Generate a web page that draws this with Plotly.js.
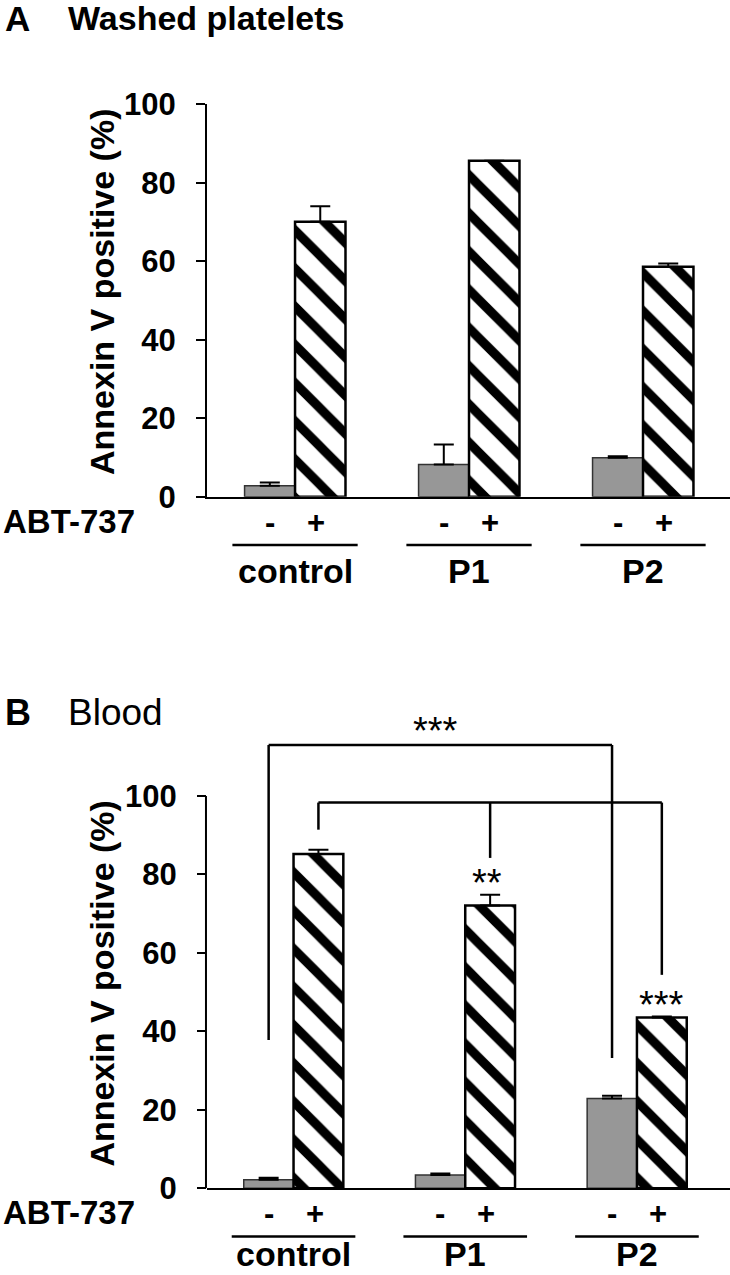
<!DOCTYPE html>
<html>
<head>
<meta charset="utf-8">
<script src="https://cdn.plot.ly/plotly-3.0.1.min.js"></script>
<style>
  html, body { margin: 0; padding: 0; background: #fff; }
  #chart { width: 730px; height: 1275px; }
</style>
</head>
<body>
<div id="chart"></div>
<script>
const chart = document.getElementById('chart');

/**
 * Data
 */
const groups = ['control', 'P1', 'P2'];
const signs = ['-', '+'];

// A: washed platelets
const washedMinus = [2.8, 8.2, 9.9];
const washedMinusErr = [0.8, 5.1, 0.4];
const washedPlus = [70.1, 85.6, 58.6];
const washedPlusErr = [3.9, 0, 0.8];

// B: blood
const bloodMinus = [2.2, 3.4, 22.9];
const bloodMinusErr = [0.5, 0.4, 0.7];
const bloodPlus = [85.2, 72.1, 43.5];
const bloodPlusErr = [1.1, 2.7, 0.3];

const yTicks = [0, 20, 40, 60, 80, 100];

/**
 * Styling
 */
const FONT = 'Liberation Sans, Arial, sans-serif';
const bargap = 0.42;
const half = (1 - bargap) / 4;   // offset of each bar from the group centre

const greyBar = (y, err, xa, ya) => ({
  type: 'bar', x: groups, y: y, xaxis: xa, yaxis: ya,
  marker: { color: '#979797', line: { color: '#333', width: 1.5 } },
  error_y: { type: 'data', array: err, arrayminus: err.map(() => 0), symmetric: false,
             color: '#000', thickness: 2, width: 10 },
  showlegend: false, hoverinfo: 'skip'
});

const hatchBar = (y, err, xa, ya) => ({
  type: 'bar', x: groups, y: y, xaxis: xa, yaxis: ya,
  marker: {
    color: '#fff',
    line: { color: '#000', width: 2.5 },
    pattern: { shape: '\\', fgcolor: '#000', bgcolor: '#fff', size: 27, solidity: 0.34 }
  },
  error_y: { type: 'data', array: err, arrayminus: err.map(() => 0), symmetric: false,
             color: '#000', thickness: 2, width: 10 },
  showlegend: false, hoverinfo: 'skip'
});

const data = [
  greyBar(washedMinus, washedMinusErr, 'x', 'y'),
  hatchBar(washedPlus, washedPlusErr, 'x', 'y'),
  greyBar(bloodMinus, bloodMinusErr, 'x2', 'y2'),
  hatchBar(bloodPlus, bloodPlusErr, 'x2', 'y2')
];

const xAxisBase = {
  domain: [207 / 730, 1],
  showline: true, linewidth: 2, linecolor: '#000',
  showticklabels: false, ticks: '', showgrid: false, zeroline: false, fixedrange: true
};

const yAxisBase = {
  tickvals: yTicks, ticks: 'outside', ticklen: 9, tickwidth: 2, tickcolor: '#000',
  tickfont: { family: FONT, size: 31, weight: 'bold', color: '#000' },
  ticklabelstandoff: 14,
  showgrid: false, zeroline: false, fixedrange: true
};

/**
 * Annotations and shapes
 */
const annotations = [];
const shapes = [];

const txt = (text, x, y, size, extra) => Object.assign({
  text: text, x: x, y: y, xref: 'paper', yref: 'paper', showarrow: false,
  xanchor: 'center', yanchor: 'middle',
  font: { family: FONT, size: size, color: '#000', weight: 'bold' }
}, extra || {});

// panel labels
annotations.push(txt('A', 3 / 730, 1 - 18 / 1275, 35, { xanchor: 'left' }));
annotations.push(txt('Washed platelets', 66 / 730, 1 - 18 / 1275, 34, { xanchor: 'left' }));
annotations.push(txt('B', 3 / 730, 1 - 712 / 1275, 36, { xanchor: 'left' }));
annotations.push(txt('Blood', 66 / 730, 1 - 712 / 1275, 37,
  { xanchor: 'left', font: { family: FONT, size: 37, color: '#000', weight: 'normal' } }));

// per panel: y title, ABT-737 row, signs, group underlines and names
const panels = [
  { xa: 'x', top: 0, nameY: 571, nameAnchor: 'middle' },
  { xa: 'x2', top: 691.6, nameY: 583, nameAnchor: 'bottom' }   // kept inside the page
];
panels.forEach(p => {
  const py = px => 1 - (px + p.top) / 1275;
  annotations.push(txt('Annexin V positive (%)', 102 / 730, py(292), 34, { textangle: -90 }));
  annotations.push(txt('ABT-737', 1 / 730, py(521), 33, { xanchor: 'left' }));
  groups.forEach((g, i) => {
    signs.forEach((s, j) => {
      annotations.push(txt(s, i, py(522), 31, { xref: p.xa, xshift: j === 0 ? -25 : 21 }));
    });
    annotations.push(txt(g, i, py(p.nameY), 34, { xref: p.xa, yanchor: p.nameAnchor }));
    shapes.push({
      type: 'line', xref: p.xa, yref: 'paper', x0: i - 0.36, x1: i + 0.36,
      y0: py(545), y1: py(545), line: { color: '#000', width: 2.5 }
    });
  });
});

// panel B y axis line only reaches 100
shapes.push({
  type: 'line', xref: 'paper', yref: 'y2', x0: 207 / 730 - 0.0014, x1: 207 / 730 - 0.0014,
  y0: 0, y1: 100, line: { color: '#000', width: 2 }
});

// significance brackets in panel B
const bline = (x0, y0, x1, y1) => shapes.push({
  type: 'line', xref: 'x2', yref: 'y2', x0: x0, y0: y0, x1: x1, y1: y1,
  line: { color: '#000', width: 2.5 }
});
// control(-) vs P2(-)
bline(0 - half, 37.8, 0 - half, 113);
bline(0 - half, 113, 2 - half, 113);
bline(2 - half, 113, 2 - half, 33.2);
// control(+) vs P1(+) and P2(+)
bline(0 + half, 91.4, 0 + half, 98.3);
bline(0 + half, 98.3, 2 + half, 98.3);
bline(1 + half, 98.3, 1 + half, 84.2);
bline(2 + half, 98.3, 2 + half, 54.4);

const star = (text, x, y) => annotations.push({
  text: text, x: x, y: y, xref: 'x2', yref: 'y2', showarrow: false,
  xanchor: 'center', yanchor: 'middle',
  font: { family: FONT, size: 38, color: '#000' }
});
star('***', 1 - half - 0.03, 116.6);
star('**', 1 + half - 0.02, 77.8);
star('***', 2 + half, 46.8);

/**
 * Layout
 */
const layout = {
  width: 730,
  height: 1275,
  margin: { l: 0, r: 0, t: 0, b: 0 },
  paper_bgcolor: '#fff',
  plot_bgcolor: 'rgba(0,0,0,0)',
  barmode: 'group',
  bargap: bargap,
  bargroupgap: 0,
  xaxis: Object.assign({}, xAxisBase, { anchor: 'y', range: [-0.506, 2.5] }),
  yaxis: Object.assign({}, yAxisBase, {
    anchor: 'x', domain: [1 - 496.7 / 1275, 1 - 104.3 / 1275], range: [0, 100],
    showline: true, linewidth: 2, linecolor: '#000'
  }),
  xaxis2: Object.assign({}, xAxisBase, { anchor: 'y2', range: [-0.504, 2.542] }),
  yaxis2: Object.assign({}, yAxisBase, {
    anchor: 'x2', domain: [1 - 1188.3 / 1275, 1 - 709.6 / 1275], range: [0, 122],
    showline: false
  }),
  annotations: annotations,
  shapes: shapes
};

Plotly.newPlot(chart, data, layout, { staticPlot: true });
</script>
</body>
</html>
